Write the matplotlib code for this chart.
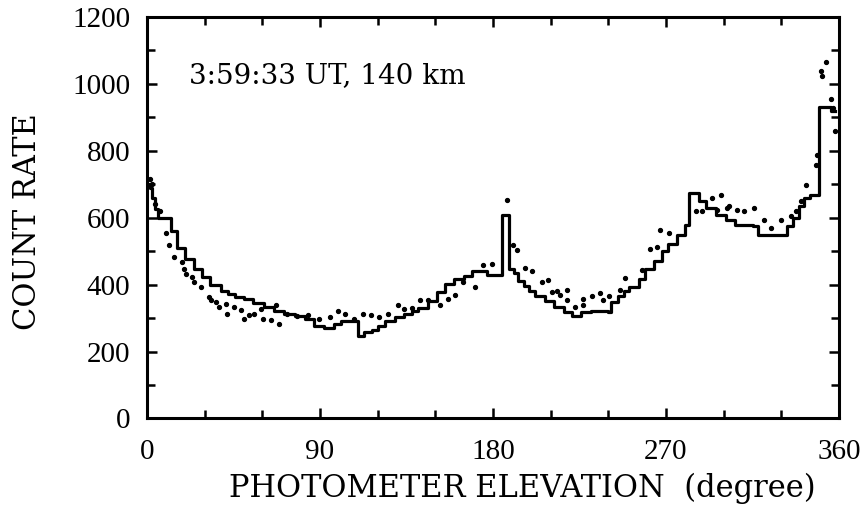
import numpy as np
import matplotlib.pyplot as plt
from matplotlib.ticker import MultipleLocator

# Step curve (solid line): start of each bin and level
step_x = [0, 1.5, 2.5, 4, 6, 12.5, 15.5, 20, 24.5, 28.5, 33, 38.5, 42, 46, 50.5,
          55, 61, 66, 71.5, 77, 82, 87, 92, 97.5, 101, 106, 110, 113, 117, 120,
          124, 129, 134, 138, 141, 146, 151, 155, 160, 165, 169, 174, 177, 184.7,
          188.5, 191, 193, 196, 199, 202, 207, 212, 217, 221, 226, 231, 240,
          241.5, 245, 248, 251, 256, 259, 264, 268, 271, 276, 280, 282, 287, 291,
          296, 301, 306, 315.5, 318, 333, 336, 339, 342, 345, 349.6, 356, 358]
step_y = [700, 690, 660, 625, 600, 560, 510, 478, 448, 424, 398, 380, 372, 362, 356,
          345, 332, 322, 313, 305, 298, 275, 270, 283, 290, 292, 248, 258, 265, 277,
          290, 303, 313, 322, 330, 350, 378, 402, 418, 425, 442, 440, 428, 607,
          448, 435, 410, 395, 382, 367, 352, 334, 319, 307, 319, 322, 319,
          349, 367, 382, 394, 418, 448, 470, 502, 523, 547, 577, 674, 650, 628,
          607, 592, 577, 574, 547, 574, 598, 634, 659, 668, 930, 920, 920]

# Dotted series
dot_x = [1.5, 2.5, 4, 7, 9.7, 11.5, 14.1, 18.4, 19.3, 20.2, 23.6, 24.5, 28, 32.3,
         33.2, 35.8, 37.6, 41, 41.9, 45.4, 48.9, 50.6, 53.2, 55.8, 59.3, 60.2,
         64.5, 67.1, 68.9, 73, 78, 83.6, 89.7, 95, 99.3, 102.8, 108, 112.3, 116.7,
         121, 125.4, 130.6, 134, 138, 141.9, 146, 152.3, 156.7, 160.2, 164.5,
         170.6, 174.9, 179.3, 187.1, 190.6, 192.3, 196.7, 200.2, 205.4, 208.9,
         210.6, 213.2, 215, 218.4, 218.4, 222.8, 227.1, 227.1, 231.5, 235.8,
         237.5, 240.2, 246.2, 248.9, 257.6, 261.9, 265.4, 267.1, 271.5, 285.4,
         288.9, 294.1, 296.7, 298.4, 301.9, 302.7, 307.1, 310.6, 315.8, 321,
         324.5, 329.7, 334.9, 337.5, 340.2, 342.8, 348, 348.8, 350.6, 351.4,
         353.2, 356, 356.9, 357.7]
dot_y = [715, 700, 640, 620, 553, 518, 483, 468, 448, 433, 423, 408, 393, 363,
         353, 348, 333, 343, 313, 333, 323, 298, 308, 313, 328, 298,
         293, 338, 283, 312, 305, 308, 298, 303, 320, 313, 298, 313, 308,
         303, 313, 338, 328, 330, 353, 355, 338, 358, 368, 408,
         393, 458, 463, 653, 518, 503, 450, 440, 408, 413,
         378, 380, 368, 383, 353, 333, 358, 338, 366, 376,
         355, 366, 385, 420, 443, 508, 513, 563, 553, 619,
         619, 659, 623, 669, 628, 634, 623, 619, 628, 593,
         568, 593, 604, 619, 649, 699, 759, 789, 1040, 1025,
         1065, 955, 929, 859]

plt.rcParams['font.family'] = ['Liberation Serif', 'DejaVu Serif']
wide = ['DejaVu Serif']

fig = plt.figure(figsize=(8.64, 5.16), dpi=100)
ax = fig.add_axes([0.170, 0.189, 0.801, 0.778])

ax.step(step_x, step_y, where='post', color='black', linewidth=2.3)
ax.plot(dot_x, dot_y, linestyle='none', marker='o', markersize=2.8,
        color='black')

ax.text(22, 1025, "3:59:33 UT, 140 km", fontsize=20, family=wide,
        va='center', ha='left')

ax.set_xlim(0, 360)
ax.set_ylim(0, 1200)
ax.xaxis.set_major_locator(MultipleLocator(90))
ax.xaxis.set_minor_locator(MultipleLocator(30))
ax.yaxis.set_major_locator(MultipleLocator(200))
ax.yaxis.set_minor_locator(MultipleLocator(100))
ax.tick_params(which='both', direction='in', top=True, right=True,
               width=1.8, labelsize=21)
ax.tick_params(which='major', length=7)
ax.tick_params(which='minor', length=6)
ax.tick_params(axis='x', which='major', pad=15)
ax.tick_params(axis='y', which='major', pad=12)
for s in ax.spines.values():
    s.set_linewidth(2.2)

ax.set_xlabel("PHOTOMETER ELEVATION  (degree)", fontsize=22, family=wide)
ax.xaxis.set_label_coords(0.542, -0.135)
ax.set_ylabel("COUNT RATE", fontsize=22, family=wide)
ax.yaxis.set_label_coords(-0.15, 0.49)

fig.savefig("out.png", dpi=100)
